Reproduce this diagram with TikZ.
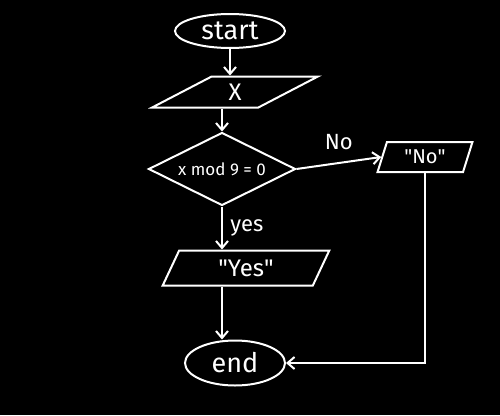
\documentclass[tikz,border=0pt]{standalone}
\usepackage{fontspec}
\setmainfont{Fira Sans}
\usetikzlibrary{shapes.geometric,arrows.meta}
\begin{document}
\begin{tikzpicture}[x=1pt,y=-1pt,
  every node/.style={text=white},
  shp/.style={draw=white, line width=2pt, inner sep=0pt},
  term/.style={shp, ellipse, font=\fontsize{27}{29}\selectfont},
  io/.style={shp, trapezium, trapezium stretches=true, trapezium left angle=#1, trapezium right angle=180-#1},
  dec/.style={shp, diamond, aspect=2, font=\fontsize{17}{19}\selectfont},
  conn/.style={draw=white, line width=2pt, -{Straight Barb[length=7pt,width=12pt]}},
  lbl/.style={font=\fontsize{22}{24}\selectfont}]
\fill[black] (0,0) rectangle (500,415);
\useasboundingbox (0,0) rectangle (500,415);
\node[term, minimum width=110pt, minimum height=34pt] (start) at (230,31) {start};
\node[io=45, minimum width=166pt, minimum height=31pt, font=\fontsize{24}{26}\selectfont] (x) at (235,92) {X};
\node[dec, minimum width=147pt, minimum height=73pt] (dia) at (222,169) {x mod 9 = 0};
\node[io=70, minimum width=95pt, minimum height=30pt, font=\fontsize{20}{22}\selectfont] (no) at (425,157) {\textquotedbl No\textquotedbl};
\node[io=68, minimum width=167pt, minimum height=35pt, font=\fontsize{24}{26}\selectfont] (yes) at (246,268) {\textquotedbl Yes\textquotedbl};
\node[term, minimum width=100pt, minimum height=45pt] (end) at (235,363) {end};
\coordinate (corner) at (no.south |- end.east);
\draw[conn] (start) -- (start |- x.north);
\draw[conn] (dia |- x.south) -- (dia.north);
\draw[conn] (dia.east) -- node[lbl, above=9pt] {No} (no.west);
\draw[conn] (dia.south) -- node[lbl, right=4pt] {yes} (dia.south |- yes.north);
\draw[conn] (dia.south |- yes.south) -- (dia.south |- end.north);
\draw[conn] (no.south) -- (corner) -- (end.east);
\end{tikzpicture}
\end{document}
